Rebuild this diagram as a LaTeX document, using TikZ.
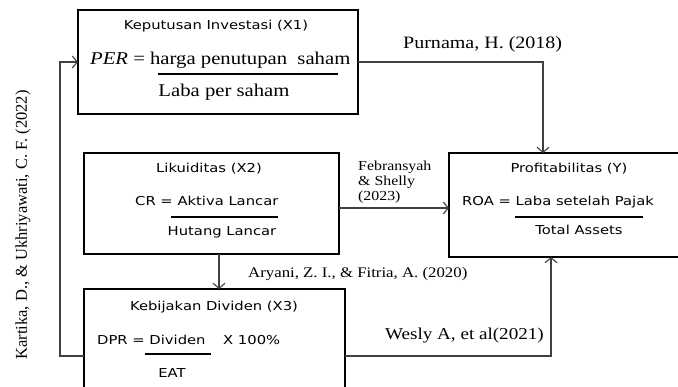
\documentclass[tikz,border=0pt]{standalone}
\usepackage{fontspec}
\setmainfont[FakeStretch=1.15]{Liberation Serif}
\newfontfamily\sidefont{Liberation Serif}
\newfontfamily\boxfont[FakeStretch=1.2]{DejaVu Sans}
\usetikzlibrary{arrows.meta}

\tikzset{
  varbox/.style={draw, rectangle, line width=1.1pt, inner sep=0pt, outer sep=0pt},
  boxtext/.style={inner sep=0pt, anchor=base, font=\boxfont\fontsize{12.3}{14}\selectfont},
  boxleft/.style={boxtext, anchor=base west},
  serifeq/.style={inner sep=0pt, anchor=base, font=\fontsize{18}{20}\selectfont},
  cite/.style={inner sep=0pt, anchor=base west},
  fracline/.style={line width=1.1pt},
  link/.style={->, line width=1.1pt, draw=black!75},
}

\begin{document}
\begin{tikzpicture}[x=1pt, y=-1pt, >={Straight Barb[length=5pt,width=12pt]}]
  \useasboundingbox (0,0) rectangle (678,387);

  % Variable boxes
  \node[varbox, minimum width=280pt, minimum height=104pt] (x1) at (218,62) {};
  \node[varbox, minimum width=255pt, minimum height=101pt] (x2) at (211.5,203.5) {};
  \node[varbox, minimum width=233pt, minimum height=104pt] (y) at (565.5,205) {};
  \node[varbox, minimum width=261pt, minimum height=134pt] (x3) at (214.5,356) {};

  % Keputusan Investasi
  \node[boxtext] (x1title) at (216,30) {Keputusan Investasi (X1)};
  \node[serifeq, anchor=base west] (x1num) at (90,65) {\textit{PER} = harga penutupan\ \ saham};
  \draw[fracline] (158,74) -- (338,74);
  \node[serifeq] (x1den) at (224,97) {Laba per saham};

  % Likuiditas
  \node[boxtext] (x2title) at (209,173) {Likuiditas (X2)};
  \node[boxleft] (x2num) at (135,206) {CR = Aktiva Lancar};
  \draw[fracline] (171,217) -- (278,217);
  \node[boxtext] (x2den) at (222,236) {Hutang Lancar};

  % Profitabilitas
  \node[boxtext] (ytitle) at (569,173) {Profitabilitas (Y)};
  \node[boxleft] (ynum) at (462,206) {ROA = Laba setelah Pajak};
  \draw[fracline] (515,217) -- (643,217);
  \node[boxtext] (yden) at (579,235) {Total Assets};

  % Kebijakan Dividen
  \node[boxtext] (x3title) at (214,311) {Kebijakan Dividen (X3)};
  \node[boxleft] (x3num) at (97,345) {DPR = Dividen};
  \node[boxleft] (x3pct) at (223,345) {X 100\%};
  \draw[fracline] (145,354) -- (211,354);
  \node[boxtext] (x3den) at (172,378) {EAT};

  % Arrows
  \draw[link] (x1.east) -| ([xshift=-22.5pt]y.north);
  \draw[link] ([yshift=-4.5pt]x2.east) -- ([yshift=-4.5pt]x2.east -| y.west);
  \draw[link] ([xshift=7.5pt]x2.south) -- ([xshift=7.5pt]x2.south |- x3.north);
  \draw[link] (x3.east) -| ([xshift=-14.5pt]y.south);
  \draw[link] (x3.west) -- ++(-24,0) |- (x1.west);

  % Sources
  \node[cite, font=\fontsize{17.4}{20}\selectfont] (purnama) at (403,49) {Purnama, H. (2018)};
  \node[cite, anchor=north west, align=left, font=\fontsize{13.8}{15}\selectfont] (febransyah) at (358,161) {Febransyah\\\& Shelly\\(2023)};
  \node[cite, font=\fontsize{14.6}{17}\selectfont] (aryani) at (248,278) {Aryani, Z. I., \& Fitria, A. (2020)};
  \node[cite, font=\fontsize{16.6}{19}\selectfont] (wesly) at (385,340) {Wesly A, et al(2021)};
  \node[inner sep=0pt, rotate=90, font=\sidefont\fontsize{16.5}{19}\selectfont] (kartika) at (23,225) {Kartika, D., \& Ukhriyawati, C. F. (2022)};
\end{tikzpicture}
\end{document}
